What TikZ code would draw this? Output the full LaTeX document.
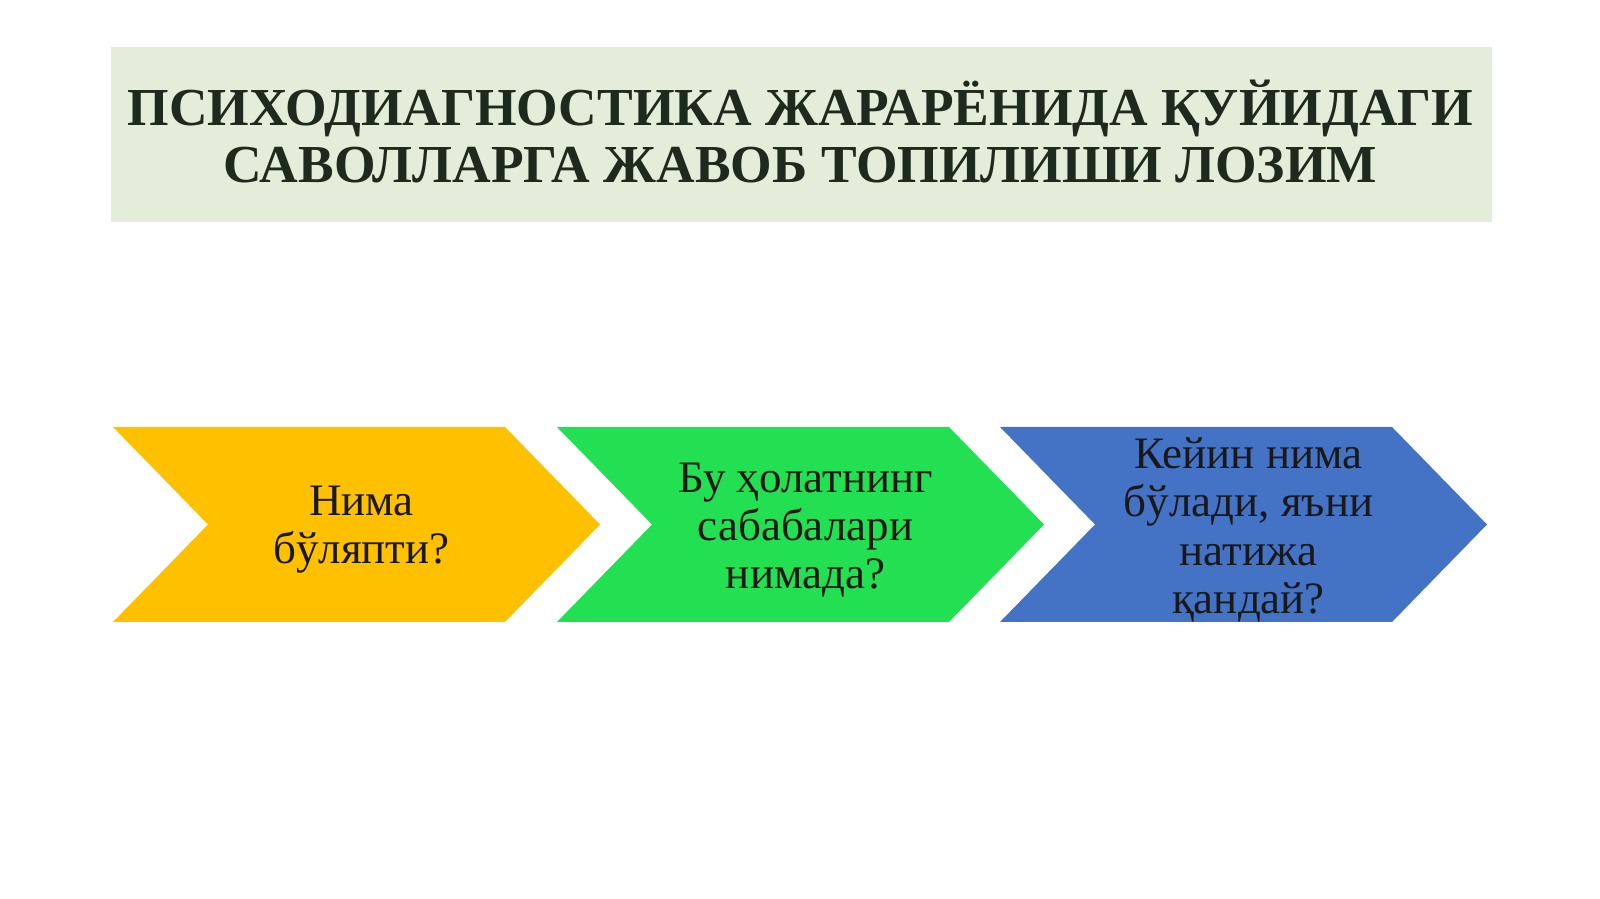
\documentclass[tikz,border=0pt]{standalone}
\usepackage{fontspec}
\setmainfont{Liberation Serif}

\definecolor{titlefill}{HTML}{E4EDDA}
\definecolor{titleink}{HTML}{1F2A1E}
\definecolor{chevyellow}{HTML}{FFC000}
\definecolor{chevgreen}{HTML}{22E051}
\definecolor{chevblue}{HTML}{4472C4}

\tikzset{
  titletext/.style={anchor=base, inner sep=0pt, text=titleink, font=\fontsize{15.2}{18}\selectfont\bfseries},
  chevtext/.style={inner sep=0pt, align=center, text=black!90, font=\fontsize{12.8}{13.7}\selectfont}
}

\begin{document}
\begin{tikzpicture}
\useasboundingbox (0,0) rectangle (16,-8.99);
\fill[titlefill] (1.11,-0.47) rectangle (14.92,-2.22);
\node[titletext] (title1) at (8.005,-1.255) {ПСИХОДИАГНОСТИКА ЖАРАРЁНИДА ҚУЙИДАГИ};
\node[titletext] (title2) at (8.005,-1.83) {САВОЛЛАРГА ЖАВОБ ТОПИЛИШИ ЛОЗИМ};
% chevrons
\fill[chevyellow] (1.13,-4.27) -- (5.05,-4.27) -- (6.00,-5.245) -- (5.05,-6.22) -- (1.13,-6.22) -- (2.08,-5.245) -- cycle;
\fill[chevgreen] (5.57,-4.27) -- (9.49,-4.27) -- (10.44,-5.245) -- (9.49,-6.22) -- (5.57,-6.22) -- (6.52,-5.245) -- cycle;
\fill[chevblue] (10.00,-4.27) -- (13.92,-4.27) -- (14.87,-5.245) -- (13.92,-6.22) -- (10.00,-6.22) -- (10.95,-5.245) -- cycle;
% texts
\node[chevtext] (what) at (3.615,-5.30) {Нима\\бўляпти?};
\node[chevtext] (why) at (8.055,-5.30) {Бу ҳолатнинг\\сабабалари\\нимада?};
\node[chevtext] (next) at (12.485,-5.30) {Кейин нима\\бўлади, яъни\\натижа\\қандай?};
\end{tikzpicture}
\end{document}
